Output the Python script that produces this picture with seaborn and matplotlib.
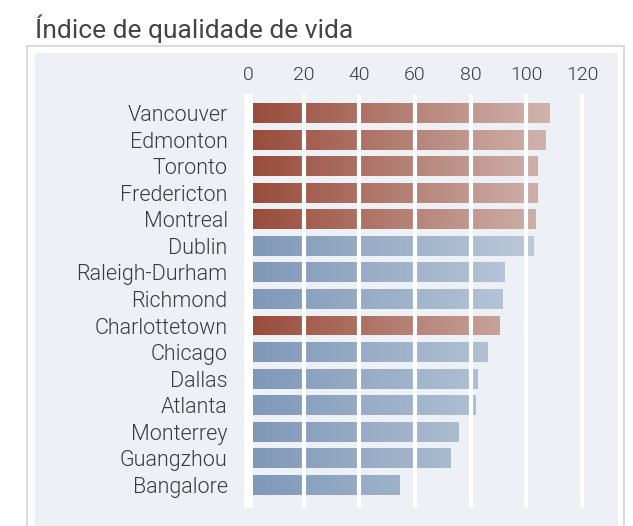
import numpy as np
import pandas as pd
import seaborn as sns
import matplotlib.pyplot as plt
from matplotlib.patches import Rectangle
from matplotlib.colors import LinearSegmentedColormap

cities = ["Vancouver", "Edmonton", "Toronto", "Fredericton", "Montreal", "Dublin",
          "Raleigh-Durham", "Richmond", "Charlottetown", "Chicago", "Dallas",
          "Atlanta", "Monterrey", "Guangzhou", "Bangalore"]
scores = [108.2, 107.0, 104.1, 104.1, 103.4, 102.7, 92.3, 91.3, 90.2, 86.2,
          82.3, 81.9, 75.5, 72.6, 54.6]
group = ["Canadá", "Canadá", "Canadá", "Canadá", "Canadá", "Outros",
         "Outros", "Outros", "Canadá", "Outros", "Outros",
         "Outros", "Outros", "Outros", "Outros"]
xticks = [0, 20, 40, 60, 80, 100, 120]

df = pd.DataFrame({"cidade": cities, "indice": scores, "grupo": group})

sns.set_theme(style="white")
plt.rcParams["font.family"] = ["Roboto", "DejaVu Sans"]

fig = plt.figure(figsize=(6.33, 5.26), dpi=100)
fig.patch.set_facecolor("white")

# white card + grey-blue panel behind the chart
fig.patches.append(Rectangle((27 / 633, -0.1), (624 - 27) / 633, 0.9125 + 0.1,
                             transform=fig.transFigure, fc="white", ec="#d8d8d8",
                             lw=1.3, zorder=-2))
fig.patches.append(Rectangle((35 / 633, -0.1), (618 - 35) / 633, 0.8992 + 0.1,
                             transform=fig.transFigure, fc="#edf0f5", ec="none",
                             zorder=-1))

fig.text(35 / 633, 1 - 38 / 526, "Índice de qualidade de vida", fontsize=19,
         color="#444444", va="baseline", ha="left", fontweight=400)

ax = fig.add_axes([243 / 633, 1 - 508 / 526, 343 / 633, 414 / 526])
ax.set_facecolor("#edf0f5")

pal = {"Canadá": "#984a39", "Outros": "#7e98b7"}
sns.barplot(data=df, x="indice", y="cidade", hue="grupo", palette=pal,
            dodge=False, width=0.75, legend=False, ax=ax, zorder=1)

# horizontal gradient inside each bar
cmaps = {
    "Canadá": LinearSegmentedColormap.from_list("r", ["#984a39", "#d6bfba"]),
    "Outros": LinearSegmentedColormap.from_list("b", ["#7e98b7", "#c6d1e0"]),
}
grad = np.linspace(0, 1, 256).reshape(1, -1)
for p in list(ax.patches):
    if p.get_width() <= 0:
        continue
    y0 = p.get_y()
    y1 = y0 + p.get_height()
    idx = int(round((y0 + y1) / 2))
    cm = cmaps[group[idx]]
    im = ax.imshow(grad, extent=(0, 120, y1, y0), aspect="auto", cmap=cm,
                   zorder=1, interpolation="bicubic")
    im.set_clip_path(p)
    p.set_facecolor("none")
    p.set_edgecolor("none")

ax.set_xlim(-1.8, 121.45)
ax.set_ylim(14.87, -0.715)
ax.set_xticks(xticks)
ax.xaxis.tick_top()
ax.set_axisbelow(False)
ax.grid(axis="x", color="white", lw=3)
ax.grid(axis="y", visible=False)
ax.axvline(0, color="white", lw=6.5, zorder=3)
ax.tick_params(axis="x", length=0, pad=7, labelsize=14, labelcolor="#3a3a3a")
ax.tick_params(axis="y", length=0, pad=11, labelsize=15.5, labelcolor="#3a3a3a")
for lab in ax.get_xticklabels() + ax.get_yticklabels():
    lab.set_fontweight(300)
ax.set_xlabel("")
ax.set_ylabel("")
sns.despine(ax=ax, left=True, bottom=True, top=True, right=True)

fig.savefig("out.png", dpi=100)
